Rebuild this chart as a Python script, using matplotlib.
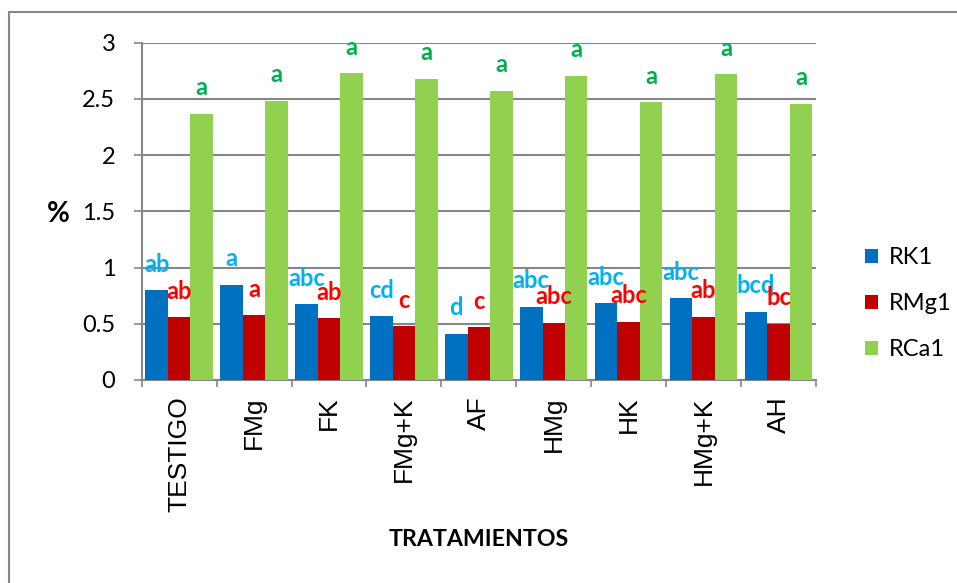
import matplotlib
matplotlib.use("Agg")
import matplotlib.pyplot as plt
import numpy as np
from matplotlib.patches import Rectangle, Patch

categories = ["TESTIGO", "FMg", "FK", "FMg+K", "AF", "HMg", "HK", "HMg+K", "AH"]
rk1 = [0.80, 0.845, 0.675, 0.565, 0.41, 0.652, 0.682, 0.727, 0.605]
rmg1 = [0.558, 0.575, 0.548, 0.48, 0.469, 0.507, 0.519, 0.564, 0.501]
rca1 = [2.367, 2.485, 2.73, 2.678, 2.574, 2.705, 2.47, 2.72, 2.455]
lab_rk1 = ["ab", "a", "abc", "cd", "d", "abc", "abc", "abc", "bcd"]
lab_rmg1 = ["ab", "a", "ab", "c", "c", "abc", "abc", "ab", "bc"]
lab_rca1 = ["a"] * 9
series_names = ["RK1", "RMg1", "RCa1"]
yticks = [0, 0.5, 1, 1.5, 2, 2.5, 3]

colors = ["#0070C0", "#C00000", "#92D050"]
label_colors = ["#00B0F0", "#FF0000", "#00B050"]

fig = plt.figure(figsize=(9.57, 5.83), dpi=100)
ax = fig.add_axes([141.7 / 957, 1 - 380 / 583, (816 - 141.7) / 957, (380 - 42.7) / 583])

x = np.arange(len(categories))
w = 0.3
data = [rk1, rmg1, rca1]
labels = [lab_rk1, lab_rmg1, lab_rca1]
for i, (vals, labs) in enumerate(zip(data, labels)):
    xs = x + (i - 1) * w
    ax.bar(xs, vals, width=w, color=colors[i], edgecolor="none", zorder=3)
    for xi, v, t in zip(xs, vals, labs):
        ax.annotate(t, (xi, v), xytext=(0, 26), textcoords="offset pixels",
                    ha="center", va="center", color=label_colors[i],
                    fontsize=17, fontweight="bold", family="Lato", zorder=4,
                    annotation_clip=False)

ax.set_xlim(-0.5, len(categories) - 0.5)
ax.set_ylim(0, 3)
ax.set_yticks(yticks)
ax.set_yticklabels([f"{t:g}" for t in yticks], family="Lato", fontsize=17)
ax.yaxis.grid(True, color="#868686", linewidth=1.5, zorder=0)
ax.set_axisbelow(True)
ax.tick_params(axis="y", length=6, width=1.2, color="#868686", pad=13)
ax.set_xticks(x)
ax.set_xticklabels(categories, rotation=90, family="Liberation Sans", fontsize=19)
ax.tick_params(axis="x", length=0, pad=12)
ax.set_xticks(np.arange(-0.5, len(categories), 1), minor=True)
ax.tick_params(axis="x", which="minor", length=5, width=1.2, color="#868686")
for s in ["top", "right"]:
    ax.spines[s].set_visible(False)
for s in ["left", "bottom"]:
    ax.spines[s].set_color("#868686")
    ax.spines[s].set_linewidth(1.5)

fig.text(58 / 957, 1 - 214 / 583, "%", ha="center", va="center",
         fontsize=20, fontweight="bold", family="Lato")
fig.text(478.5 / 957, 1 - 539 / 583, "TRATAMIENTOS", ha="center", va="center",
         fontsize=16.7, fontweight="bold", family="Lato")

handles = [Patch(facecolor=c, edgecolor="none") for c in colors]
leg = fig.legend(handles, series_names, loc="upper left",
                 bbox_to_anchor=(856 / 957, 1 - 238 / 583),
                 frameon=False, prop={"family": "Lato", "size": 17},
                 handlelength=0.55, handleheight=0.55, handletextpad=0.45,
                 labelspacing=1.05, borderaxespad=0)

fig.add_artist(Rectangle((9 / 957, -0.05), 1.2, 1 - 12 / 583 + 0.05,
                         transform=fig.transFigure, fill=False,
                         edgecolor="#868686", linewidth=1.5))

fig.savefig("out.png", dpi=100)
